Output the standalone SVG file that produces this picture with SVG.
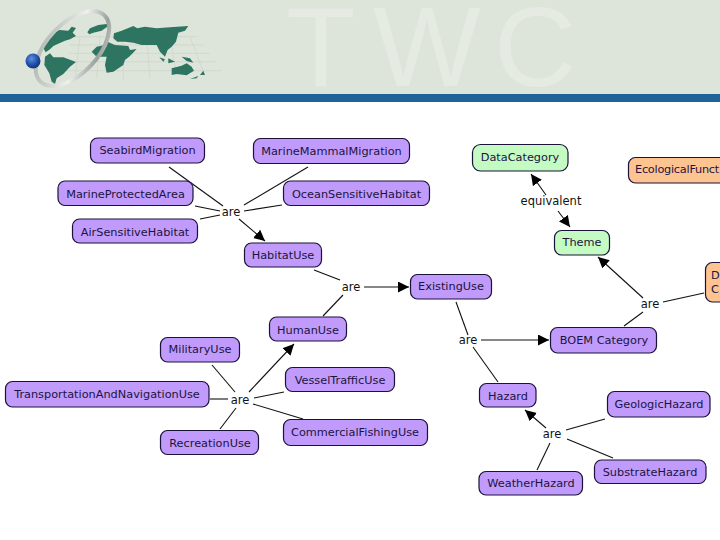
<svg xmlns="http://www.w3.org/2000/svg" width="720" height="540" viewBox="0 0 720 540">
<style>
.n rect{stroke:#1a1238;stroke-width:1.2}
.p rect{fill:#c09bfb}
.g rect{fill:#c3fbc3}
.o rect{fill:#fdc491}
text{font-family:"DejaVu Sans",Verdana,sans-serif;font-size:11.3px;fill:#1c1440;text-anchor:middle}
.l{fill:#111;font-size:11.5px}
#connectors line{stroke:#111;stroke-width:1.1}
.m{fill:#2d7560}
.h{stroke:#ccd4c9;stroke-width:2;fill:none}
</style>
<defs>
<marker id="a" markerUnits="userSpaceOnUse" markerWidth="12" markerHeight="12" refX="11" refY="5.500" orient="auto"><path d="M0 0L11 5.500L0 11z" fill="#000"/></marker>
<linearGradient id="r" x1="0" y1="0" x2="1" y2="1"><stop offset="0" stop-color="#a9aeab"/><stop offset=".3" stop-color="#c9cdca"/><stop offset=".55" stop-color="#eef0ee"/><stop offset=".8" stop-color="#9ba09d"/><stop offset="1" stop-color="#dfe2df"/></linearGradient>
<radialGradient id="s" cx=".4" cy=".35" r=".7"><stop offset="0" stop-color="#5d8fe0"/><stop offset=".6" stop-color="#1f4fa8"/><stop offset="1" stop-color="#10306e"/></radialGradient>
</defs>
<rect width="720" height="540" fill="#fff"/>
<g id="header">
<rect width="720" height="94" fill="#dde4da"/>
<rect y="94" width="720" height="8" fill="#1f6398"/>
<text x="286 373 494" y="86" style="font-size:114px;fill:#e5eae3;font-family:'Liberation Sans',sans-serif;text-anchor:start">TWC</text>
<g transform="scale(.3333)">
<path class="h" d="M200 110H590M210 135H610M205 160H630M190 185H650M170 212H665M240 110L225 235M300 110L290 235M370 110L370 240M440 110L450 235M510 110L530 225M570 110L610 215"/>
<path class="m" d="M160 100L178 90L205 92L215 80L228 84L218 98L228 108L210 118L195 122L178 130L160 138L150 148L137 157L130 145L142 125zM262 97L270 85L295 75L320 72L322 80L305 92L280 98L268 103zM135 170L150 160L160 172L190 172L228 186L210 200L190 222L170 235L165 252L155 245L148 220L133 195zM342 100L365 92L400 78L412 85L435 80L470 85L510 82L565 78L555 92L535 98L528 125L515 140L503 150L495 170L480 155L470 135L445 135L425 135L400 128L375 125L352 125L340 115zM275 155L290 140L315 135L322 125L345 135L385 138L390 150L410 147L390 168L375 180L370 195L340 215L320 218L315 195L320 170L290 170zM478 172L495 178L490 185zM505 175L525 185L505 190zM545 170L570 175L580 188L560 183zM515 205L545 197L560 190L575 200L582 212L560 226L530 222L515 225zM570 237L595 228L590 235zM600 225L610 212L615 225z"/>
</g>
<ellipse cx="72.500" cy="48.500" rx="46" ry="25" fill="none" stroke="url(#r)" stroke-width="4" transform="rotate(-46 72.500 48.500)"/>
<circle cx="33" cy="61" r="7.500" fill="url(#s)"/>
</g>
<g id="connectors">
<line x1="169" y1="167" x2="223" y2="206"/>
<line x1="308" y1="167" x2="244" y2="205"/>
<line x1="195" y1="206" x2="220" y2="211"/>
<line x1="200" y1="219" x2="220" y2="215"/>
<line x1="282" y1="205" x2="244" y2="211"/>
<line x1="239" y1="219" x2="265" y2="241" marker-end="url(#a)"/>
<line x1="314" y1="270" x2="340" y2="280"/>
<line x1="323" y1="316" x2="343" y2="295"/>
<line x1="364" y1="287" x2="409" y2="287" marker-end="url(#a)"/>
<line x1="212" y1="365" x2="235" y2="392"/>
<line x1="210" y1="399" x2="228" y2="399"/>
<line x1="220" y1="429" x2="236" y2="408"/>
<line x1="284" y1="392" x2="254" y2="398"/>
<line x1="303" y1="419" x2="253" y2="404"/>
<line x1="249" y1="392" x2="294" y2="344" marker-end="url(#a)"/>
<line x1="546" y1="195" x2="531" y2="174" marker-end="url(#a)"/>
<line x1="558" y1="211" x2="570" y2="227" marker-end="url(#a)"/>
<line x1="643" y1="298" x2="598" y2="257" marker-end="url(#a)"/>
<line x1="663" y1="302" x2="704" y2="293"/>
<line x1="624" y1="326" x2="643" y2="312"/>
<line x1="456" y1="302" x2="468" y2="335"/>
<line x1="473" y1="347" x2="498" y2="382"/>
<line x1="481" y1="340" x2="549" y2="340" marker-end="url(#a)"/>
<line x1="546" y1="428" x2="525" y2="410" marker-end="url(#a)"/>
<line x1="605" y1="419" x2="566" y2="430"/>
<line x1="613" y1="458" x2="567" y2="439"/>
<line x1="537" y1="470" x2="550" y2="443"/>
</g>
<g id="labels">
<text class="l" x="231" y="216">are</text>
<text class="l" x="351" y="291">are</text>
<text class="l" x="240" y="404">are</text>
<text class="l" x="551" y="205">equivalent</text>
<text class="l" x="650" y="308">are</text>
<text class="l" x="468" y="344">are</text>
<text class="l" x="552" y="438">are</text>
</g>
<g id="SeabirdMigration" class="n p"><rect x="90.500" y="138" width="114" height="25" rx="7"/><text x="147.500" y="154">SeabirdMigration</text></g>
<g id="MarineMammalMigration" class="n p"><rect x="253.500" y="138.500" width="156" height="25" rx="7"/><text x="331.500" y="155">MarineMammalMigration</text></g>
<g id="MarineProtectedArea" class="n p"><rect x="58" y="181" width="135" height="24.500" rx="7"/><text x="125.500" y="198">MarineProtectedArea</text></g>
<g id="OceanSensitiveHabitat" class="n p"><rect x="283.500" y="181" width="146" height="24.500" rx="7"/><text x="356.500" y="198">OceanSensitiveHabitat</text></g>
<g id="AirSensitiveHabitat" class="n p"><rect x="72.500" y="219" width="125" height="24" rx="7"/><text x="135" y="236">AirSensitiveHabitat</text></g>
<g id="HabitatUse" class="n p"><rect x="244.500" y="243" width="77" height="24" rx="7"/><text x="283" y="259">HabitatUse</text></g>
<g id="ExistingUse" class="n p"><rect x="410.500" y="274.500" width="81" height="24.500" rx="7"/><text x="451" y="290">ExistingUse</text></g>
<g id="HumanUse" class="n p"><rect x="269.500" y="317" width="77" height="24" rx="7"/><text x="308" y="334">HumanUse</text></g>
<g id="MilitaryUse" class="n p"><rect x="160.500" y="337.500" width="79" height="24.500" rx="7"/><text x="200" y="353">MilitaryUse</text></g>
<g id="TransportationAndNavigationUse" class="n p"><rect x="5.500" y="381.500" width="203.500" height="25.500" rx="7"/><text x="107" y="398">TransportationAndNavigationUse</text></g>
<g id="VesselTrafficUse" class="n p"><rect x="285.500" y="367.500" width="109" height="24" rx="7"/><text x="340" y="384">VesselTrafficUse</text></g>
<g id="RecreationUse" class="n p"><rect x="160.500" y="430.500" width="98" height="24" rx="7"/><text x="210" y="447">RecreationUse</text></g>
<g id="CommercialFishingUse" class="n p"><rect x="283.500" y="419.500" width="144" height="26" rx="7"/><text x="355" y="436">CommercialFishingUse</text></g>
<g id="BOEMCategory" class="n p"><rect x="550.500" y="327.500" width="106" height="25.500" rx="7"/><text x="604" y="344">BOEM Category</text></g>
<g id="Hazard" class="n p"><rect x="479.500" y="383.500" width="56.500" height="23.500" rx="7"/><text x="508" y="400">Hazard</text></g>
<g id="GeologicHazard" class="n p"><rect x="607.500" y="391.500" width="102.500" height="25.500" rx="7"/><text x="659" y="408">GeologicHazard</text></g>
<g id="SubstrateHazard" class="n p"><rect x="594.500" y="460" width="111.500" height="23.500" rx="7"/><text x="650" y="476">SubstrateHazard</text></g>
<g id="WeatherHazard" class="n p"><rect x="479" y="471.500" width="103.500" height="23.500" rx="7"/><text x="531" y="487">WeatherHazard</text></g>
<g id="DataCategory" class="n g"><rect x="472.500" y="144.500" width="95.500" height="26.500" rx="8"/><text x="520" y="161">DataCategory</text></g>
<g id="Theme" class="n g"><rect x="554.500" y="230.500" width="55" height="24.500" rx="7"/><text x="582" y="246">Theme</text></g>
<g id="EcologicalFunction" class="n o"><rect x="628.500" y="157.500" width="110" height="25.500" rx="7"/><text x="635" y="173" style="text-anchor:start;letter-spacing:-.25px">EcologicalFunct</text></g>
<g id="DC" class="n o"><rect x="705.500" y="262.500" width="40" height="39.500" rx="7"/><text x="711" y="279" style="text-anchor:start">D</text><text x="711" y="293" style="text-anchor:start">C</text></g>
</svg>
